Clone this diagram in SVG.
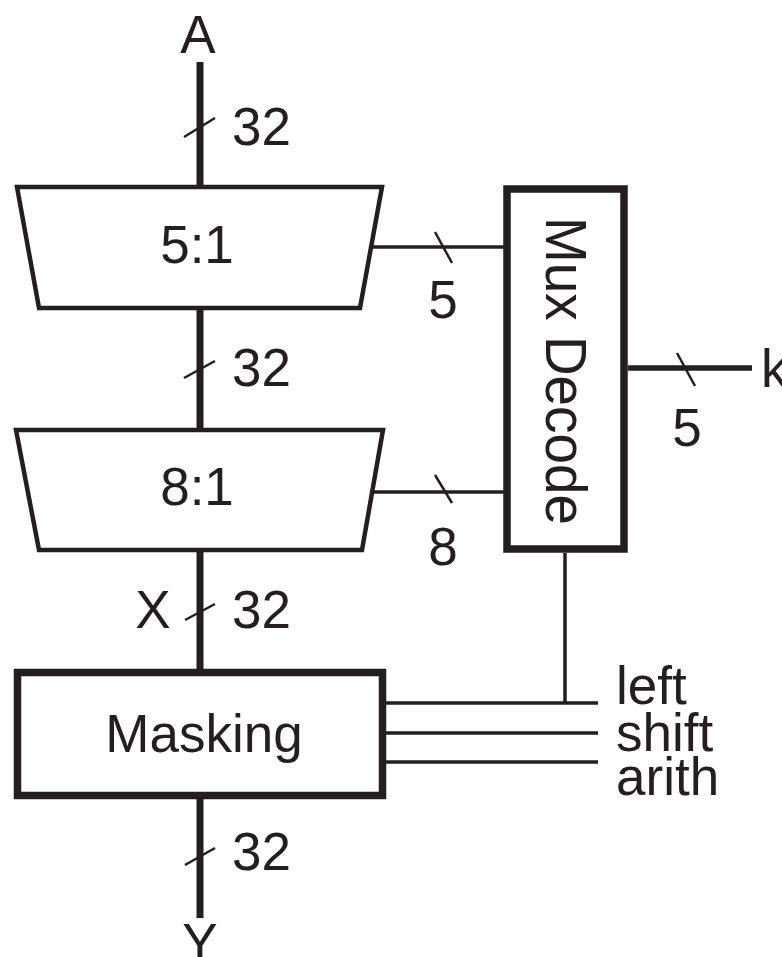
<svg xmlns="http://www.w3.org/2000/svg" width="782" height="957" viewBox="0 0 782 957">
<style>
text{font-family:"Liberation Sans",Arial,sans-serif;font-size:53px;fill:#231f20}
.box{fill:#fff;stroke:#231f20}
.bus{stroke:#231f20;stroke-width:7;fill:none}
.wire{stroke:#231f20;stroke-width:3.5;fill:none}
.tick{stroke:#231f20;stroke-width:2.5;fill:none}
.m{text-anchor:middle}
</style>
<rect width="782" height="957" fill="#fff"/>
<g id="connectors">
<line class="bus" x1="200" y1="62" x2="200" y2="187"/>
<line class="bus" x1="200" y1="308" x2="200" y2="430"/>
<line class="bus" x1="200" y1="550" x2="200" y2="672"/>
<line class="bus" x1="200" y1="799" x2="200" y2="918"/>
<line class="wire" x1="372" y1="247" x2="504" y2="247"/>
<line class="wire" x1="372" y1="492" x2="504" y2="492"/>
<line class="wire" x1="628" y1="368" x2="752" y2="368" style="stroke-width:5.5"/>
<line class="wire" x1="565" y1="553" x2="565" y2="703"/>
<line class="wire" x1="386" y1="703" x2="598" y2="703"/>
<line class="wire" x1="386" y1="733" x2="598" y2="733"/>
<line class="wire" x1="386" y1="762" x2="598" y2="762"/>
<line class="tick" x1="184" y1="137" x2="215" y2="118"/>
<line class="tick" x1="184" y1="378" x2="215" y2="361"/>
<line class="tick" x1="185" y1="620" x2="215" y2="604"/>
<line class="tick" x1="185" y1="865" x2="215" y2="848"/>
<line class="tick" x1="435" y1="232" x2="452" y2="263"/>
<line class="tick" x1="435" y1="475" x2="452" y2="503"/>
<line class="tick" x1="677" y1="353" x2="695" y2="386"/>
</g>
<g id="mux5">
<polygon class="box" points="17,187 382,187 360,308 39,308" stroke-width="4.5"/>
<text class="m" x="197" y="263">5:1</text>
</g>
<g id="mux8">
<polygon class="box" points="16,430 383,430 362,550 39,550" stroke-width="4.5"/>
<text class="m" x="197" y="505">8:1</text>
</g>
<g id="muxdecode">
<rect class="box" x="507" y="189" width="117" height="360" stroke-width="7.5"/>
<text class="m" transform="translate(546,371) rotate(90)" x="0" y="0" style="font-size:58px" textLength="308" lengthAdjust="spacingAndGlyphs">Mux Decode</text>
</g>
<g id="masking">
<rect class="box" x="17.5" y="672.5" width="365" height="123" stroke-width="7.5"/>
<text class="m" x="204" y="752">Masking</text>
</g>
<g id="labels">
<text class="m" x="198" y="53">A</text>
<text x="232" y="145">32</text>
<text x="232" y="386">32</text>
<text x="232" y="628">32</text>
<text x="232" y="870">32</text>
<text class="m" x="153" y="628">X</text>
<text class="m" x="200" y="961">Y</text>
<text class="m" x="443" y="318">5</text>
<text class="m" x="443" y="565">8</text>
<text class="m" x="687" y="446">5</text>
<text x="761" y="387">k</text>
<text x="616" y="704">left</text>
<text x="616" y="751">shift</text>
<text x="616" y="795">arith</text>
</g>
</svg>
